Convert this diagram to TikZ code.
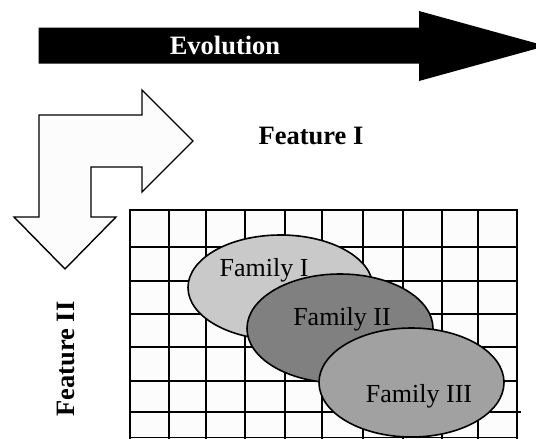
\documentclass[tikz,border=0pt]{standalone}
\usepackage{fontspec}
\setmainfont{Liberation Serif}
\usetikzlibrary{shapes.geometric}
\definecolor{famlight}{gray}{0.79}
\definecolor{famdark}{gray}{0.5}
\definecolor{fammid}{gray}{0.63}
\definecolor{paper}{gray}{0.99}

\begin{document}
\begin{tikzpicture}[x=1pt, y=-1pt,
  family/.style = {shape=ellipse, draw, line width=1.6pt, inner sep=0pt},
  famtext/.style = {anchor=base, inner sep=0pt, font=\fontsize{26}{31}\selectfont},
  title/.style = {anchor=base, inner sep=0pt, font=\fontsize{26.5}{31}\selectfont\bfseries},
  gridline/.style = {line width=1.5pt}]
  \useasboundingbox (0,0) rectangle (536,439);
  \clip (0,0) rectangle (536,439);
  \fill[black] (38.5,27.5) -- (419,27.5) -- (419,11) -- (546,46)
    -- (419,81) -- (419,63.5) -- (38.5,63.5) -- cycle;
  \node[title, text=white] (evolution) at (225,54.5) {Evolution};
  \draw[line width=1.4pt, fill=paper, line join=miter] (39,115) -- (142,115) -- (142,90)
    -- (193,141) -- (142,192) -- (142,167) -- (91,167) -- (91,217)
    -- (116,217) -- (65,269) -- (14,217) -- (39,217) -- cycle;
  \node[title] (featureI) at (311,144) {Feature I};
  \node[title, rotate=90] (featureII) at (74,359) {Feature II};
  \fill[paper] (130,210) rectangle (517,440);
  \foreach \x in {130,169,206,245,285,322,363,403,442,478,517}
    \draw[gridline] (\x,209.3) -- (\x,440);
  \foreach \y in {210,247,281,314,347,381,437.5}
    \draw[gridline] (129.3,\y) -- (517.7,\y);
  \draw[gridline] (129.3,412) -- (521,412);
  \node[family, fill=famlight, minimum width=185pt, minimum height=105pt] (familyI) at (280.5,287.5) {};
  \node[famtext] (labelI) at (264,276) {Family I};
  \node[family, fill=famdark, minimum width=186pt, minimum height=109pt] (familyII) at (340,328.5) {};
  \node[famtext] (labelII) at (342,325) {Family II};
  \node[family, fill=fammid, minimum width=185pt, minimum height=109pt] (familyIII) at (411.5,382.5) {};
  \node[famtext] (labelIII) at (419,402.5) {Family III};
\end{tikzpicture}
\end{document}
